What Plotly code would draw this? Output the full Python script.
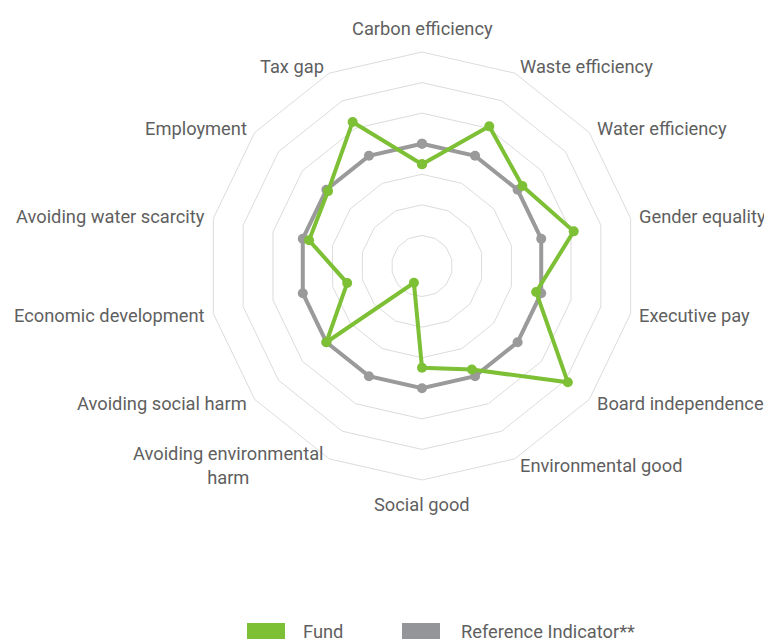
import math
import plotly.graph_objects as go

categories = ["Carbon efficiency", "Waste efficiency", "Water efficiency", "Gender equality",
              "Executive pay", "Board independence", "Environmental good", "Social good",
              "Avoiding environmental<br>harm", "Avoiding social harm", "Economic development",
              "Avoiding water scarcity", "Employment", "Tax gap"]
fund = [3.33, 5.07, 4.2, 5.09, 3.83, 6.1, 3.76, 3.33, 0.61, 4.0, 2.51, 3.79, 3.93, 5.23]
reference = [4.0] * 14
series_names = ["Fund", "Reference Indicator**"]

GREEN = "#7dbf35"
GRAY = "#9a9a9a"
LEG_GRAY = "#939598"
TXT = "#5f5f5f"
FONT = "Roboto, Liberation Sans, sans-serif"
FS = 18.3
RMAX = 7

def closed(v):
    return list(v) + [v[0]]

theta = closed(categories)

fig = go.Figure()
fig.add_trace(go.Scatterpolar(r=closed(reference), theta=theta, mode="lines+markers",
                              line=dict(color=GRAY, width=4), marker=dict(color=GRAY, size=10),
                              name=series_names[1], showlegend=False, hoverinfo="skip"))
fig.add_trace(go.Scatterpolar(r=closed(fund), theta=theta, mode="lines+markers",
                              line=dict(color=GREEN, width=4), marker=dict(color=GREEN, size=10),
                              name=series_names[0], showlegend=False, hoverinfo="skip"))

W, H = 772, 639
cx, cy, R = 414, 258, 214   # figure-pixel centre and outer radius of the radar
fig.update_layout(
    width=W, height=H,
    margin=dict(l=0, r=0, t=0, b=0),
    paper_bgcolor="white",
    font=dict(family=FONT, color=TXT, size=FS),
    polar=dict(
        domain=dict(x=[(cx - R) / W, (cx + R) / W], y=[(H - cy - R) / H, (H - cy + R) / H]),
        bgcolor="white",
        gridshape="linear",
        radialaxis=dict(range=[0, RMAX], dtick=1, showticklabels=False, ticks="", showline=False,
                        gridcolor="#dcdcdc", gridwidth=1),
        angularaxis=dict(rotation=90, direction="clockwise", showgrid=False, ticks="",
                         showticklabels=False, linecolor="#dcdcdc", linewidth=1),
    ),
)

# category labels placed just outside each spoke (Excel-style anchoring)
n = len(categories)
for i, lab in enumerate(categories):
    a = 2 * math.pi * i / n
    s, c = math.sin(a), math.cos(a)
    if abs(s) < 0.1:
        d = R + 24
        xa = "center"
    else:
        d = R + 7
        xa = "left" if s > 0 else "right"
    px = cx + d * s
    py = cy - d * c
    fig.add_annotation(text=lab, xref="paper", yref="paper", x=px / W, y=1 - py / H,
                       xanchor=xa, yanchor="middle", align="center", showarrow=False,
                       font=dict(family=FONT, color=TXT, size=FS))

# legend swatches and labels
legend_items = [(series_names[0], GREEN, 239, 293), (series_names[1], LEG_GRAY, 394, 451)]
for name, col, x0, xt in legend_items:
    fig.add_shape(type="rect", xref="paper", yref="paper",
                  x0=x0 / W, x1=(x0 + 38) / W, y0=-0.05, y1=1 - 615 / H,
                  fillcolor=col, line=dict(width=0))
    fig.add_annotation(text=name, xref="paper", yref="paper", x=xt / W, y=1 - 623 / H,
                       xanchor="left", yanchor="middle", showarrow=False,
                       font=dict(family=FONT, color=TXT, size=FS))

fig.write_html("out.html")
